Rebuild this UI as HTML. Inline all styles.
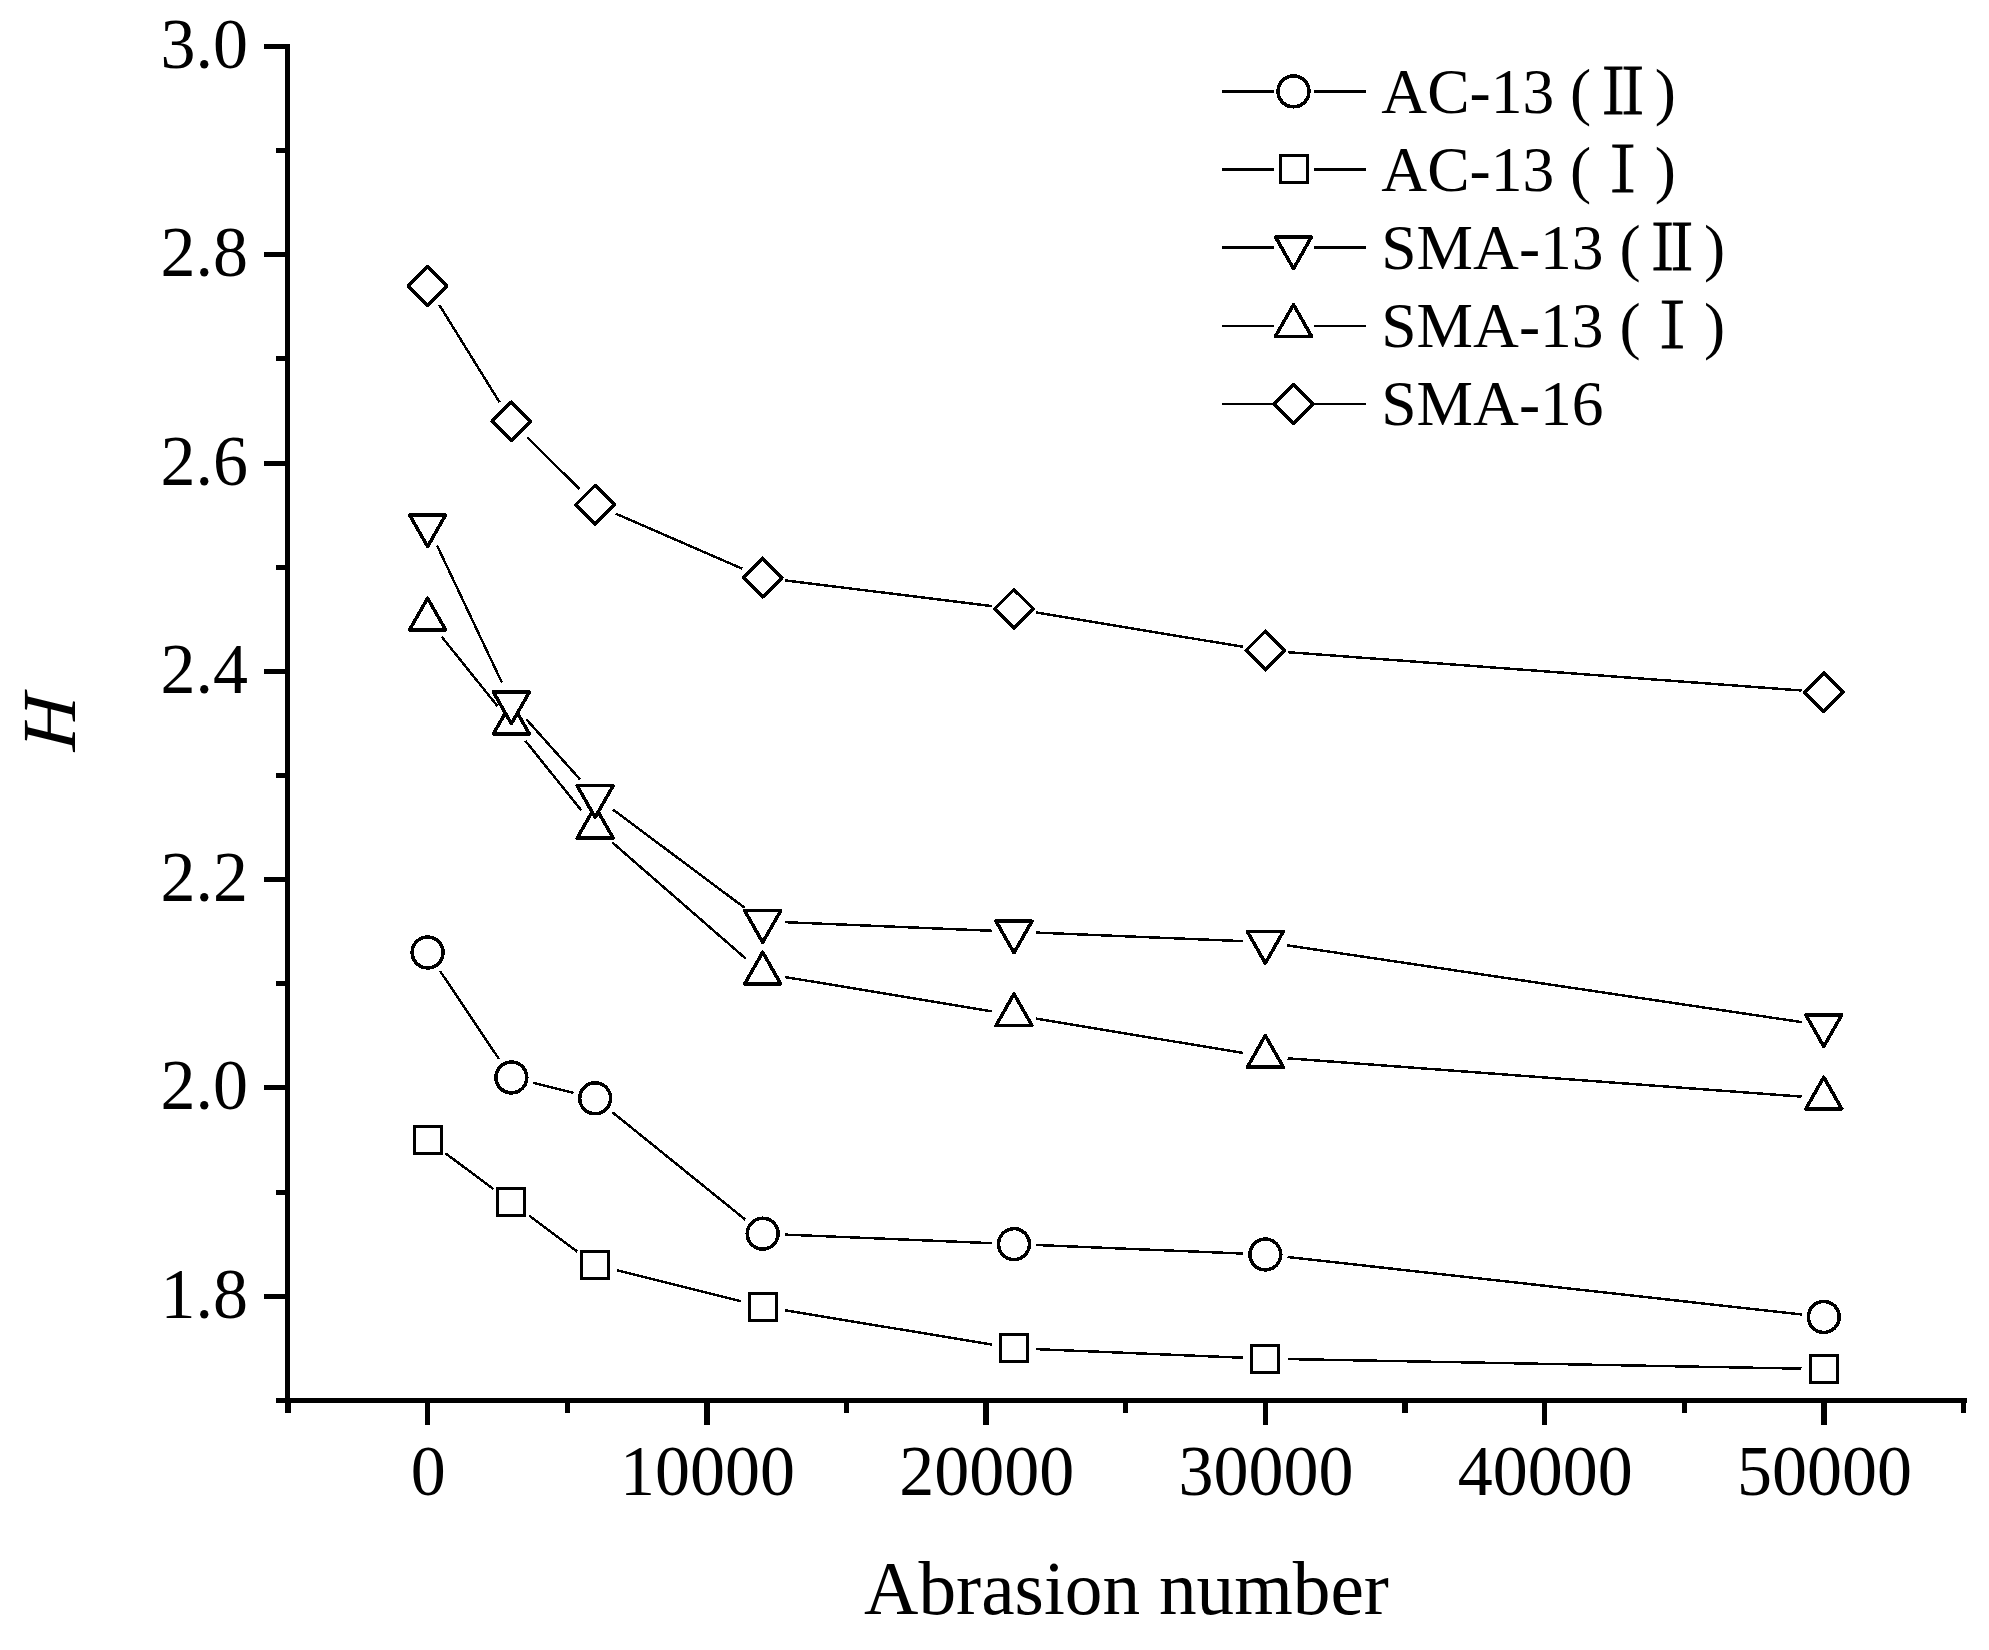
<!DOCTYPE html>
<html lang="en"><head><meta charset="utf-8"><title>H vs Abrasion number</title>
<style>html,body{margin:0;padding:0;background:#fff}body{width:1989px;height:1650px;overflow:hidden}svg{display:block}text{font-family:"Liberation Serif","Noto Serif CJK SC",serif;fill:#000}.rn{font-family:"Liberation Serif","Noto Serif CJK SC",serif}</style>
</head><body>
<svg width="1989" height="1650" viewBox="0 0 1989 1650">
<rect width="1989" height="1650" fill="#fff"/>
<g fill="#000" shape-rendering="crispEdges">
<rect x="285.2" y="44" width="5" height="1359"/>
<rect x="276" y="1398" width="1691" height="5"/>
<rect x="264" y="1293.66" width="22" height="5"/>
<rect x="276" y="1189.52" width="10" height="5"/>
<rect x="264" y="1085.38" width="22" height="5"/>
<rect x="276" y="981.24" width="10" height="5"/>
<rect x="264" y="877.1" width="22" height="5"/>
<rect x="276" y="772.96" width="10" height="5"/>
<rect x="264" y="668.82" width="22" height="5"/>
<rect x="276" y="564.68" width="10" height="5"/>
<rect x="264" y="460.54" width="22" height="5"/>
<rect x="276" y="356.4" width="10" height="5"/>
<rect x="264" y="252.26" width="22" height="5"/>
<rect x="276" y="148.12" width="10" height="5"/>
<rect x="264" y="43.98" width="22" height="5"/>
<rect x="285.38" y="1402" width="5.2" height="10.6"/>
<rect x="424.8" y="1402" width="5.6" height="23"/>
<rect x="564.62" y="1402" width="5.2" height="10.6"/>
<rect x="704.04" y="1402" width="5.6" height="23"/>
<rect x="843.86" y="1402" width="5.2" height="10.6"/>
<rect x="983.28" y="1402" width="5.6" height="23"/>
<rect x="1123.1" y="1402" width="5.2" height="10.6"/>
<rect x="1262.52" y="1402" width="5.6" height="23"/>
<rect x="1402.34" y="1402" width="5.2" height="10.6"/>
<rect x="1541.76" y="1402" width="5.6" height="23"/>
<rect x="1681.58" y="1402" width="5.2" height="10.6"/>
<rect x="1821" y="1402" width="5.6" height="23"/>
<rect x="1960.82" y="1402" width="5.2" height="10.6"/>
</g>
<g font-size="70" text-anchor="end">
<text transform="translate(247.95 1317.66) scale(1 1.025)">1.8</text>
<text transform="translate(247.95 1109.38) scale(1 1.025)">2.0</text>
<text transform="translate(247.95 901.1) scale(1 1.025)">2.2</text>
<text transform="translate(247.95 692.82) scale(1 1.025)">2.4</text>
<text transform="translate(247.95 484.54) scale(1 1.025)">2.6</text>
<text transform="translate(247.95 276.26) scale(1 1.025)">2.8</text>
<text transform="translate(247.95 67.98) scale(1 1.025)">3.0</text>
</g>
<g font-size="70" text-anchor="middle">
<text transform="translate(428.2 1495.3) scale(1 1.025)">0</text>
<text transform="translate(707.44 1495.3) scale(1 1.025)">10000</text>
<text transform="translate(986.68 1495.3) scale(1 1.025)">20000</text>
<text transform="translate(1265.92 1495.3) scale(1 1.025)">30000</text>
<text transform="translate(1545.16 1495.3) scale(1 1.025)">40000</text>
<text transform="translate(1824.4 1495.3) scale(1 1.025)">50000</text>
</g>
<text x="1126.5" y="1613.6" font-size="75.3" text-anchor="middle">Abrasion number</text>
<text transform="translate(75.1 724) rotate(-90) skewX(-4)" font-size="76.5" font-style="italic" text-anchor="middle">H</text>
<g fill="none" stroke="#000" stroke-width="2.45" shape-rendering="crispEdges">
<path d="M440.02 971.02L498.96 1058.94M533.01 1082.85L573.5 1092.91M612.49 1112.31L745.34 1219.66M784.97 1234.6L991.72 1243.17M1036.28 1245.01L1243.04 1253.58M1287.48 1256.98L1801.64 1314.51"/>
<path d="M445.48 1153.28L493.5 1189.1M529.25 1215.77L577.27 1251.59M616.79 1270.3L741.05 1301.19M784.69 1310.22L992 1344.58M1036.28 1349.15L1243.04 1357.72M1287.62 1359.06L1801.5 1368.64"/>
<path d="M437.14 545.68L501.83 682.4M526.23 719.19L580.28 779.66M613.02 809.62L744.81 907.92M784.97 922.18L991.72 930.75M1036.28 932.59L1243.04 941.16M1287.38 945.37L1801.74 1022.11"/>
<path d="M441.58 636.63L497.39 706.01M525.35 740.77L581.17 810.15M611.97 842.17L745.87 958.69M784.69 976.97L992 1011.34M1036 1018.63L1243.32 1052.99M1287.56 1058.3L1801.56 1096.64"/>
<path d="M439.33 304.97L499.64 402.42M527.18 437.11L579.33 488.97M615.59 513.59L742.24 568.7M784.82 580.35L991.87 606.08M1036 612.48L1243.32 646.85M1287.56 652.15L1801.56 690.49"/>
</g>
<g fill="#fff" stroke="#000" stroke-width="3.5" stroke-linejoin="round" shape-rendering="crispEdges">
<circle cx="427.6" cy="952.5" r="15.45"/>
<circle cx="511.37" cy="1077.47" r="15.45"/>
<circle cx="595.14" cy="1098.29" r="15.45"/>
<circle cx="762.69" cy="1233.68" r="15.45"/>
<circle cx="1014" cy="1244.09" r="15.45"/>
<circle cx="1265.32" cy="1254.5" r="15.45"/>
<circle cx="1823.8" cy="1316.99" r="15.45"/>
<rect x="414.1" y="1126.45" width="27" height="27" stroke-width="3" stroke-linejoin="miter"/>
<rect x="497.87" y="1188.93" width="27" height="27" stroke-width="3" stroke-linejoin="miter"/>
<rect x="581.64" y="1251.42" width="27" height="27" stroke-width="3" stroke-linejoin="miter"/>
<rect x="749.19" y="1293.07" width="27" height="27" stroke-width="3" stroke-linejoin="miter"/>
<rect x="1000.5" y="1334.73" width="27" height="27" stroke-width="3" stroke-linejoin="miter"/>
<rect x="1251.82" y="1345.14" width="27" height="27" stroke-width="3" stroke-linejoin="miter"/>
<rect x="1810.3" y="1355.56" width="27" height="27" stroke-width="3" stroke-linejoin="miter"/>
<path d="M409.6 629.8H445.6L427.6 598.15Z"/>
<path d="M493.37 733.94H529.37L511.37 702.29Z"/>
<path d="M577.14 838.08H613.14L595.14 806.43Z"/>
<path d="M744.69 983.88H780.69L762.69 952.23Z"/>
<path d="M996 1025.53H1032L1014 993.88Z"/>
<path d="M1247.32 1067.19H1283.32L1265.32 1035.54Z"/>
<path d="M1805.8 1108.84H1841.8L1823.8 1077.19Z"/>
<path d="M409.6 514.97H445.6L427.6 546.62Z"/>
<path d="M493.37 692.01H529.37L511.37 723.66Z"/>
<path d="M577.14 785.74H613.14L595.14 817.39Z"/>
<path d="M744.69 910.71H780.69L762.69 942.36Z"/>
<path d="M996 921.12H1032L1014 952.77Z"/>
<path d="M1247.32 931.53H1283.32L1265.32 963.18Z"/>
<path d="M1805.8 1014.85H1841.8L1823.8 1046.5Z"/>
<path d="M408.3 286L427.6 266.7L446.9 286L427.6 305.3Z"/>
<path d="M492.07 421.38L511.37 402.08L530.67 421.38L511.37 440.68Z"/>
<path d="M575.84 504.7L595.14 485.4L614.44 504.7L595.14 524Z"/>
<path d="M743.39 577.59L762.69 558.29L781.99 577.59L762.69 596.89Z"/>
<path d="M994.7 608.84L1014 589.54L1033.3 608.84L1014 628.14Z"/>
<path d="M1246.02 650.49L1265.32 631.19L1284.62 650.49L1265.32 669.79Z"/>
<path d="M1804.5 692.15L1823.8 672.85L1843.1 692.15L1823.8 711.45Z"/>
</g>
<g fill="none" stroke="#000" stroke-width="2.45" shape-rendering="crispEdges">
<path d="M1222.1 91.4H1273.9M1313.7 91.4H1365.9M1222.1 169.45H1273.9M1313.7 169.45H1365.9M1222.1 247.5H1273.9M1313.7 247.5H1365.9M1222.1 326H1273.9M1313.7 326H1365.9M1222.1 404H1273.9M1313.7 404H1365.9"/>
</g>
<g fill="none" stroke="#000" stroke-width="3.5" stroke-linejoin="round" shape-rendering="crispEdges">
<circle cx="1293.5" cy="91.4" r="15.45"/>
<rect x="1280" y="155.95" width="27" height="27" stroke-width="3" stroke-linejoin="miter"/>
<path d="M1275.5 236.95H1311.5L1293.5 268.6Z"/>
<path d="M1275.5 336.25H1311.5L1293.5 304.6Z"/>
<path d="M1274.2 404L1293.5 384.7L1312.8 404L1293.5 423.3Z"/>
</g>
<g font-size="63.5">
<text x="1381.3" y="112.7" xml:space="preserve">AC-13 (<tspan class="rn" dx="2.22" dy="1" stroke="#000" stroke-width="1.0" textLength="59.05" lengthAdjust="spacingAndGlyphs">Ⅱ</tspan><tspan dx="2.22" dy="-1">)</tspan></text>
<text x="1381.3" y="190.75" xml:space="preserve">AC-13 (<tspan class="rn" dx="3.18" dy="1" stroke="#000" stroke-width="1.0" textLength="57.15" lengthAdjust="spacingAndGlyphs">Ⅰ</tspan><tspan dx="3.18" dy="-1">)</tspan></text>
<text x="1381.3" y="268.8" xml:space="preserve">SMA-13 (<tspan class="rn" dx="2.22" dy="1" stroke="#000" stroke-width="1.0" textLength="59.05" lengthAdjust="spacingAndGlyphs">Ⅱ</tspan><tspan dx="2.22" dy="-1">)</tspan></text>
<text x="1381.3" y="347" xml:space="preserve">SMA-13 (<tspan class="rn" dx="3.18" dy="1" stroke="#000" stroke-width="1.0" textLength="57.15" lengthAdjust="spacingAndGlyphs">Ⅰ</tspan><tspan dx="3.18" dy="-1">)</tspan></text>
<text x="1381.3" y="425.3">SMA-16</text>
</g>
</svg>
</body></html>
